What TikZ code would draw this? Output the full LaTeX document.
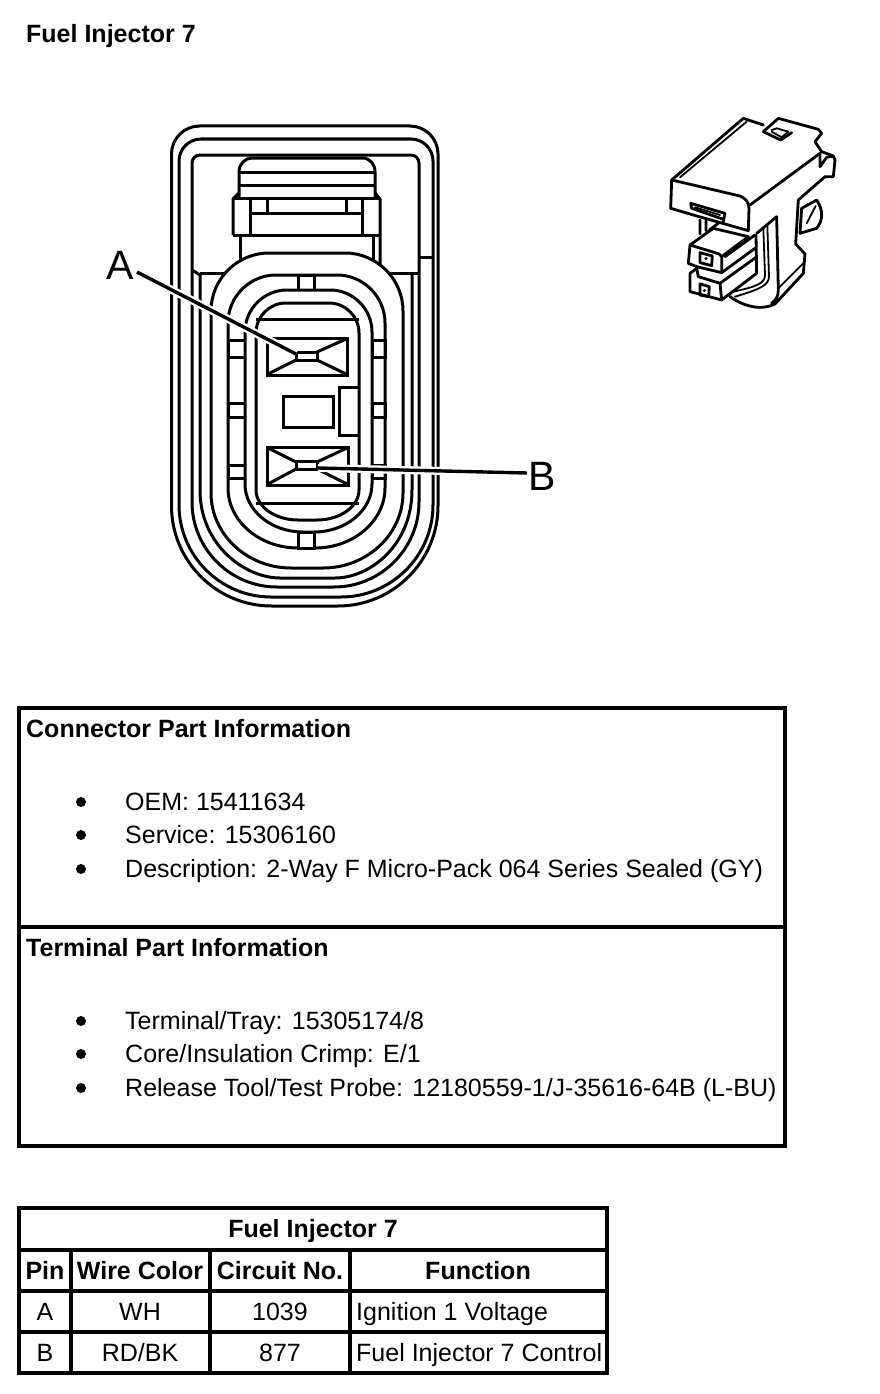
\documentclass[tikz,border=0pt]{standalone}
\usepackage{fontspec}
\setmainfont{Liberation Sans}
\newcommand{\ovalpath}[7]{(#1,{#3+#4}) .. controls +(0,{-.55*#4}) and +({-.55*#4},0) .. ({#1+#4},#3) -- ({#2-#4},#3) .. controls +({.55*#4},0) and +(0,{-.55*#4}) .. (#2,{#3+#4}) -- (#2,{#5-#7}) .. controls +(0,{.55*#7}) and +({.55*#6},0) .. ({#2-#6},#5) -- ({#1+#6},#5) .. controls +({-.55*#6},0) and +(0,{.55*#7}) .. (#1,{#5-#7}) -- cycle}
\tikzset{
 lw/.style={line width=3pt,line join=miter,black},
 iso/.style={line width=2.8pt,line join=round,line cap=round,black},
 isothin/.style={line width=1.8pt,line join=round,line cap=round,black},
 grid/.style={line width=4pt,black},
 body/.style={anchor=base west,inner sep=0pt,font=\fontsize{25}{28}\selectfont},
 head/.style={anchor=base west,inner sep=0pt,font=\fontsize{25}{28}\bfseries\selectfont},
 cellb/.style={anchor=base,inner sep=0pt,font=\fontsize{25}{28}\bfseries\selectfont},
 cell/.style={anchor=base,inner sep=0pt,font=\fontsize{25}{28}\selectfont},
 cellw/.style={anchor=base west,inner sep=0pt,font=\fontsize{25}{28}\selectfont},
 bigl/.style={inner sep=1pt,font=\fontsize{41}{44}\selectfont},
 dotb/.style={circle,fill=black,inner sep=0pt,minimum size=10pt},
 term/.style={draw,line width=3pt,rectangle,inner sep=0pt,minimum width=21pt,minimum height=8pt,fill=white},
}
\begin{document}
\begin{tikzpicture}[x=1pt,y=-1pt]
\useasboundingbox (0,0) rectangle (880,1394);
\fill[white] (0,0) rectangle (880,1394);
\node[head] (title) at (26,43) {Fuel Injector 7};
% contours
\draw[lw] \ovalpath{171.5}{438}{126}{28}{606}{100}{100};
\draw[lw] \ovalpath{179}{433}{139}{22}{597}{92}{92};
\draw[lw] \ovalpath{192}{419}{155}{8}{587}{85}{85};
\draw[lw] (192,270) -- (200,275) -- (200,490) .. controls (200,545) and (245,578) .. (280,578) -- (335,578) .. controls (370,578) and (412,545) .. (412,490) -- (412,274);
\draw[lw] (200,273) -- (419,273);
\draw[lw] (419,257) -- (433,257);
% latch
\draw[lw] (239,198) -- (239,172) .. controls (239,164) and (245,158) .. (252,158) -- (362,158) .. controls (370,158) and (375,164) .. (375,172) -- (375,198);
\draw[lw] (239,172) -- (375,172) (239,185) -- (375,185) (233,198) -- (380,198);
\draw[lw] (239,193) -- (233,199) -- (233,235) (375,193) -- (380,199) -- (380,270);
\draw[lw] (250,198) -- (250,235) (362,198) -- (362,235) (250,213) -- (362,213);
\draw[lw] (267,198) -- (267,213) (346,198) -- (346,213);
\draw[lw] (233,235) -- (380,235);
\draw[lw] (240,235) -- (240,270) (373,235) -- (373,270);
% oval housing
\draw[lw,fill=white] \ovalpath{211}{403}{253}{58}{568}{80}{75};
\draw[lw] \ovalpath{228}{385}{275}{48}{548}{70}{60};
\draw[lw,fill=white] (298,275) rectangle (314,290);
\draw[lw,fill=white] (298,532) rectangle (314,548);
\draw[lw] (228,340) rectangle (245,357) (228,403) rectangle (245,417) (228,465) rectangle (245,478);
\draw[lw] (372,340) rectangle (385,357) (372,403) rectangle (385,417) (372,465) rectangle (385,478);
\draw[lw,fill=white] \ovalpath{245}{372}{290}{42}{532}{58}{48};
\draw[lw] \ovalpath{256}{359}{303}{30}{520}{42}{30};
\draw[lw] (256,319) -- (359,319) (256,503) -- (359,503);
% terminals
\draw[lw] (267,338) rectangle (347,375);
\draw[lw] (267,447) rectangle (348,485);
\draw[lw] (268,339) -- (296,352) (346,339) -- (317,352) (268,374) -- (296,360) (346,374) -- (317,360);
\draw[lw] (268,448) -- (296,462) (347,448) -- (317,462) (268,484) -- (296,469) (347,484) -- (317,469);
\node[term] (innerA) at (306.5,356) {};
\node[term] (innerB) at (306.5,465.5) {};
\draw[lw] (283,396) rectangle (333,427);
\draw[lw] (358,387) -- (339,387) -- (339,435) -- (358,435);
% leaders
\node[bigl] (lblA) at (120,265) {A};
\node[bigl] (lblB) at (542,476) {B};
\coordinate (endA) at (296,354);
\coordinate (endB) at (318,468);
\coordinate (startA) at (137,272);
\coordinate (startB) at (527,473);
\draw[white,line width=8pt] (startA) -- (endA) (startB) -- (endB);
\draw[line width=3.4pt] (startA) -- (endA) (startB) -- (endB);
% iso view
\begin{scope}[shift={(650,100)},x=0.3333pt,y=-0.3333pt]
\draw[iso] (65,240) -- (62,325) -- (130,345) (130,345) -- (295,392) -- (297,325) .. controls (297,305) and (285,295) .. (270,288) -- (65,240);
\draw[iso] (65,240) -- (280,55) -- (340,75);
\draw[isothin] (90,232) -- (290,65);
\draw[iso] (300,315) -- (510,160);
\draw[iso] (340,95) -- (385,55) -- (505,88) -- (515,100) -- (495,125) (340,95) -- (392,120) -- (425,98);
\draw[isothin] (365,90) -- (380,85) -- (415,95) -- (395,112) -- (365,95);
\draw[iso] (495,125) -- (515,155) -- (550,168) -- (555,180) -- (550,230) -- (525,230) -- (445,300) -- (437,432) -- (465,462) -- (460,520) -- (375,612) .. controls (340,630) and (290,625) .. (240,590);
\draw[iso] (510,160) -- (510,200) -- (530,172) -- (550,168);
\draw[iso] (455,325) -- (500,300) .. controls (520,330) and (520,360) .. (500,385) -- (450,400) -- cycle;
\draw[isothin] (470,370) -- (497,318);
\draw[iso] (122,310) -- (225,340) -- (220,365) (122,310) -- (125,325) -- (220,358);
\draw[isothin] (135,322) -- (210,345);
\draw[iso] (150,360) -- (150,402) (168,362) -- (168,392) (205,370) -- (178,390);
\draw[iso] (120,435) -- (190,385) -- (295,410) -- (215,470) .. controls (210,462) and (205,460) .. (195,458) -- (120,435) -- (115,490) -- (140,500) -- (215,518) -- (215,470);
\draw[iso] (215,518) -- (315,445) (225,470) -- (315,405);
\draw[iso] (140,505) -- (145,530) -- (210,550) -- (215,600) -- (120,575) -- (120,520) -- (140,505);
\draw[iso] (210,550) -- (318,472) (215,600) -- (320,520) -- (318,405);
\draw[iso] (150,458) -- (187,468) -- (185,497) -- (150,488) -- cycle;
\draw[iso] (150,552) -- (178,560) -- (176,590) -- (150,585) -- cycle;
\fill (168,476) circle (5) (163,572) circle (5);
\draw[iso] (320,400) -- (380,350) -- (385,570) .. controls (385,590) and (378,600) .. (365,610);
\draw[isothin] (340,385) -- (345,525) .. controls (345,550) and (320,560) .. (250,575);
\draw[isothin] (352,375) -- (357,530) .. controls (357,555) and (330,568) .. (255,590);
\draw[isothin] (385,565) -- (460,490);
\end{scope}
% part info boxes
\draw[grid] (19,708) rectangle (785,1146);
\draw[grid] (19,927) -- (785,927);
\node[head] (cph) at (26,737) {Connector Part Information};
\node[dotb] (b1) at (81,802) {};
\node[dotb] (b2) at (81,835) {};
\node[dotb] (b3) at (81,869) {};
\node[body] (t1) at (125,810.5) {OEM: 15411634};
\node[body] (t2) at (125,843.5) {Service: 15306160};
\node[body] (t3) at (125,877.5) {Description: 2-Way F Micro-Pack 064 Series Sealed (GY)};
\node[head] (tph) at (26,956.5) {Terminal Part Information};
\node[dotb] (b4) at (81,1021) {};
\node[dotb] (b5) at (81,1054) {};
\node[dotb] (b6) at (81,1088) {};
\node[body] (t4) at (125,1029.5) {Terminal/Tray: 15305174/8};
\node[body] (t5) at (125,1062.5) {Core/Insulation Crimp: E/1};
\node[body] (t6) at (125,1096.5) {Release Tool/Test Probe: 12180559-1/J-35616-64B (L-BU)};
% table
\draw[grid] (19,1208) rectangle (607,1373);
\draw[grid] (19,1250) -- (607,1250) (19,1291) -- (607,1291) (19,1332) -- (607,1332);
\draw[grid] (71,1250) -- (71,1373) (210,1250) -- (210,1373) (350,1250) -- (350,1373);
\node[cellb] (c0) at (313,1237) {Fuel Injector 7};
\node[cellb] (h1) at (45,1279) {Pin};
\node[cellb] (h2) at (140,1279) {Wire Color};
\node[cellb] (h3) at (280,1279) {Circuit No.};
\node[cellb] (h4) at (478,1279) {Function};
\node[cell] (a1) at (45,1320) {A};
\node[cell] (a2) at (140,1320) {WH};
\node[cell] (a3) at (280,1320) {1039};
\node[cellw] (a4) at (356,1320) {Ignition 1 Voltage};
\node[cell] (b1t) at (45,1361) {B};
\node[cell] (b2t) at (140,1361) {RD/BK};
\node[cell] (b3t) at (280,1361) {877};
\node[cellw] (b4t) at (356,1361) {Fuel Injector 7 Control};
\end{tikzpicture}
\end{document}
